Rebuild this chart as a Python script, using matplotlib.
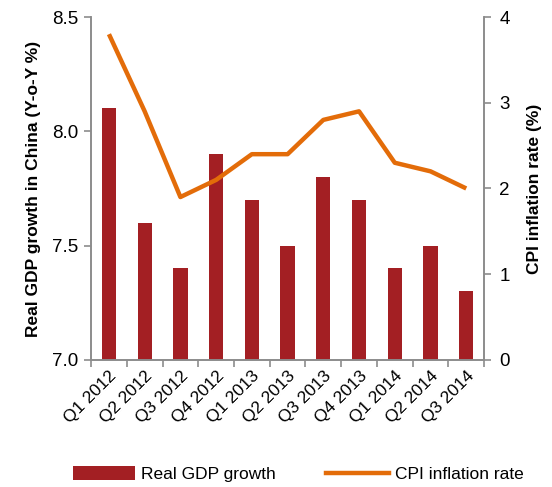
import numpy as np
import matplotlib.pyplot as plt
from matplotlib.patches import Patch
from matplotlib.lines import Line2D

plt.rcParams['font.family'] = ['Liberation Sans', 'DejaVu Sans']

quarters = ['Q1 2012', 'Q2 2012', 'Q3 2012', 'Q4 2012', 'Q1 2013', 'Q2 2013',
            'Q3 2013', 'Q4 2013', 'Q1 2014', 'Q2 2014', 'Q3 2014']
gdp_growth = [8.1, 7.6, 7.4, 7.9, 7.7, 7.5, 7.8, 7.7, 7.4, 7.5, 7.3]
cpi_rate = [3.8, 2.9, 1.9, 2.1, 2.4, 2.4, 2.8, 2.9, 2.3, 2.2, 2.0]

bar_color = '#A31F23'
line_color = '#E36C09'
spine_color = '#8C8C8C'

fig = plt.figure(figsize=(5.52, 4.87), dpi=100)
ax = fig.add_axes([0.165, 0.261, 0.712, 0.704])
x = np.arange(len(quarters))
ax.bar(x, np.array(gdp_growth) - 7.0, bottom=7.0, width=0.4, color=bar_color, zorder=2)
ax.set_xlim(-0.5, len(quarters) - 0.5)
ax.set_ylim(7.0, 8.5)
ax.set_yticks([7.0, 7.5, 8.0, 8.5])
ax.set_yticklabels(['7.0', '7.5', '8.0', '8.5'])
ax.set_ylabel('Real GDP growth in China (Y-o-Y %)', fontsize=12.5, fontweight='bold',
              labelpad=8)

# category labels centred under each bar, ticks on the category boundaries
ax.set_xticks(x)
ax.set_xticklabels(quarters, rotation=45, ha='right', rotation_mode='anchor', fontsize=12.5)
ax.tick_params(axis='x', length=0, pad=6)
ax.set_xticks(np.arange(-0.5, len(quarters)), minor=True)
ax.tick_params(axis='x', which='minor', length=5, color=spine_color, width=1.2)
ax.tick_params(axis='y', length=5, color=spine_color, width=1.2, labelsize=13.5, pad=4)

ax2 = ax.twinx()
ax2.plot(x, cpi_rate, color=line_color, linewidth=3.2, solid_capstyle='butt', zorder=3)
ax2.set_ylim(0, 4)
ax2.set_yticks([0, 1, 2, 3, 4])
ax2.tick_params(axis='y', length=5, color=spine_color, width=1.2, labelsize=13.5, pad=6)
ax2.set_ylabel('CPI inflation rate (%)', fontsize=12.5, fontweight='bold', labelpad=12)

for a in (ax, ax2):
    a.spines['top'].set_visible(False)
    for s in ('left', 'right', 'bottom'):
        a.spines[s].set_color(spine_color)
        a.spines[s].set_linewidth(1.2)

handles = [Patch(facecolor=bar_color, edgecolor='none'),
           Line2D([0], [0], color=line_color, linewidth=3.2)]
fig.legend(handles, ['Real GDP growth', 'CPI inflation rate'], loc='lower center',
           bbox_to_anchor=(0.54, -0.022), ncol=2, frameon=False, fontsize=12.5,
           handlelength=3.6, handleheight=0.8, handletextpad=0.35, columnspacing=2.9)

fig.savefig('out.png', dpi=100)
